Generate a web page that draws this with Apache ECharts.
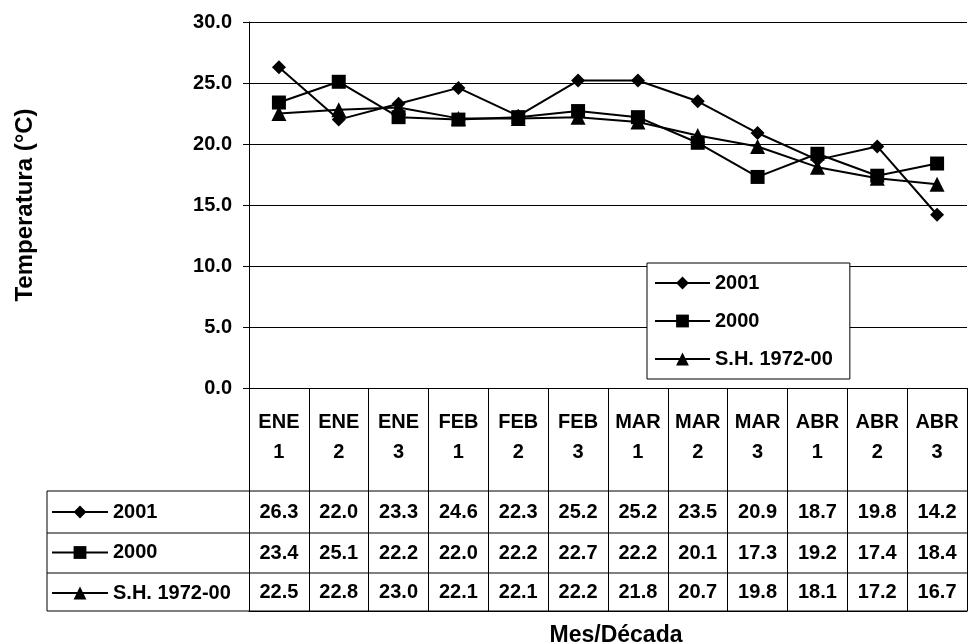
<!DOCTYPE html>
<html>
<head>
<meta charset="utf-8">
<script src="https://cdn.jsdelivr.net/npm/echarts@6/dist/echarts.min.js"></script>
<style>html,body{margin:0;padding:0;background:#fff}#c{width:968px;height:644px}</style>
</head>
<body>
<div id="c"></div>
<script>
const months = ['ENE','ENE','ENE','FEB','FEB','FEB','MAR','MAR','MAR','ABR','ABR','ABR'];
const decades = ['1','2','3','1','2','3','1','2','3','1','2','3'];
const seriesNames = ['2001', '2000', 'S.H. 1972-00'];
const s2001 = [26.3,22.0,23.3,24.6,22.3,25.2,25.2,23.5,20.9,18.7,19.8,14.2];
const s2000 = [23.4,25.1,22.2,22.0,22.2,22.7,22.2,20.1,17.3,19.2,17.4,18.4];
const sSH   = [22.5,22.8,23.0,22.1,22.1,22.2,21.8,20.7,19.8,18.1,17.2,16.7];
const yMin = 0, yMax = 30, yStep = 5;

const categories = months.map((m, i) => m + '\n' + decades[i]);
const FONT = "'Liberation Sans', Arial, sans-serif";
const txt = {fontFamily: FONT, fontWeight: 'bold', fontSize: 20, color: '#000'};

const rows = [s2001, s2000, sSH];
const rowMargins = [124, 165, 204];

const xAxes = [{
  type: 'category', gridIndex: 0, data: categories, boundaryGap: true,
  axisLine: {show: true, lineStyle: {color: '#000', width: 1}},
  axisTick: {show: false}, axisLabel: {show: false}, splitLine: {show: false}
}, {
  type: 'category', gridIndex: 1, data: categories, boundaryGap: true, position: 'top',
  axisLine: {show: true, lineStyle: {color: '#000', width: 1}},
  axisTick: {show: false},
  splitLine: {show: true, lineStyle: {color: '#000', width: 1}},
  axisLabel: Object.assign({inside: true, margin: 49, verticalAlign: 'middle', lineHeight: 30, interval: 0}, txt)
}];
rows.forEach((r, k) => {
  xAxes.push({
    type: 'category', gridIndex: 1, data: categories, boundaryGap: true, position: 'top',
    axisLine: {show: false}, axisTick: {show: false}, splitLine: {show: false},
    axisLabel: Object.assign({inside: true, margin: rowMargins[k], verticalAlign: 'middle', interval: 0,
      formatter: (v, i) => r[i].toFixed(1)}, txt)
  });
});

const symbols = ['diamond', 'rect', 'triangle'];
const sizes = [14, 14, 15];
const series = rows.map((r, k) => ({
  name: seriesNames[k], type: 'line', xAxisIndex: 0, yAxisIndex: 0, data: r,
  symbol: symbols[k], symbolSize: sizes[k], showAllSymbol: true,
  lineStyle: {color: '#000', width: 2}, itemStyle: {color: '#000'},
  emphasis: {disabled: true}, animation: false
}));

const tableLeft = 47, tableRight = 967;
const hLines = [491, 533, 573, 611];
const graphics = hLines.map(y => ({type: 'line', shape: {x1: tableLeft, y1: y, x2: tableRight, y2: y}, style: {stroke: '#000', lineWidth: 1}}));
graphics.push({type: 'line', shape: {x1: tableLeft, y1: 491, x2: tableLeft, y2: 611}, style: {stroke: '#000', lineWidth: 1}});

const legendText = Object.assign({lineHeight: 16}, txt);
const chart = echarts.init(document.getElementById('c'), null, {renderer: 'canvas'});
chart.setOption({
  animation: false,
  backgroundColor: '#fff',
  title: {text: 'Mes/Década', left: 611, top: 619, textAlign: 'center',
    textStyle: {fontFamily: FONT, fontWeight: 'bold', fontSize: 23, color: '#000'}},
  grid: [
    {left: 249, right: 1, top: 22, height: 366, containLabel: false, outerBoundsMode: 'none'},
    {left: 249, right: 1, top: 388, height: 223, containLabel: false, outerBoundsMode: 'none'}
  ],
  legend: [{
    data: seriesNames, orient: 'vertical', left: 647, top: 263,
    padding: [10, 17, 10, 7], itemWidth: 55, itemHeight: 16, itemGap: 18,
    borderColor: '#000', borderWidth: 1, backgroundColor: '#fff',
    textStyle: legendText, selectedMode: false
  }, {
    data: seriesNames, orient: 'vertical', left: 46, top: 497,
    padding: 5, itemWidth: 56, itemHeight: 16, itemGap: 20.5,
    textStyle: legendText, selectedMode: false
  }],
  xAxis: xAxes,
  yAxis: [{
    type: 'value', gridIndex: 0, min: yMin, max: yMax, interval: yStep,
    name: 'Temperatura (°C)', nameLocation: 'middle', nameRotate: 90, nameGap: 212,
    nameTextStyle: {fontFamily: FONT, fontWeight: 'bold', fontSize: 24, color: '#000'},
    axisLine: {show: true, lineStyle: {color: '#000', width: 1}},
    axisTick: {show: true, length: 6, lineStyle: {color: '#000'}},
    axisLabel: Object.assign({margin: 17, formatter: v => v.toFixed(1)}, txt),
    splitLine: {show: true, lineStyle: {color: '#000', width: 1}}
  }, {
    type: 'value', gridIndex: 1, show: false, min: 0, max: 1
  }],
  series: series,
  graphic: graphics
});
</script>
</body>
</html>
